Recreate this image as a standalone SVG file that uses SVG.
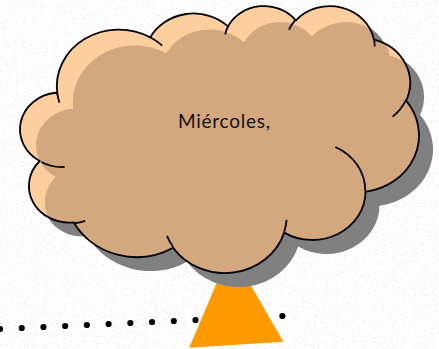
<svg xmlns="http://www.w3.org/2000/svg" width="439" height="349" viewBox="0 0 439 349">
  <style>
    .outline { fill: none; stroke: #000; stroke-width: 1.8; stroke-linejoin: round; }
    .label { font-family: Lato, "Open Sans", "Liberation Sans", sans-serif; font-size: 19px; fill: #111; }
  </style>
  <defs>
    <path id="cloudShape" vector-effect="non-scaling-stroke" d="M3900,14370 A6753,9190 0 0 1 14004,5201 A5333,7267 0 0 1 22456,3428 A4365,5945 0 0 1 29834,2478 A4857,6595 0 0 1 38319,5573 A5333,7273 0 0 1 41820,15457 A6775,9220 0 0 1 37405,30199 A5785,7867 0 0 1 28557,36809 A6752,9215 0 0 1 16482,39261 A7720,10543 0 0 1 5674,35138 A4360,5918 0 0 1 1982,25217 A4345,5945 0 0 1 3732,14174 Z"/>
    <path id="cloudDetail" vector-effect="non-scaling-stroke" d="M4693,26177 A4345,5945 0 0 1 2159,25379 M6928,34899 A4360,5918 0 0 1 5819,35281 M16478,39090 A6752,9215 0 0 1 15810,37349 M28827,34751 A6752,9215 0 0 1 28560,36660 M34129,22954 A5785,7867 0 0 1 37381,30090 M41798,15354 A5333,7273 0 0 1 40349,18031 M38324,5426 A4857,6595 0 0 1 38400,6689 M29078,3952 A4857,6595 0 0 1 29819,2341 M22141,4720 A4365,5945 0 0 1 22500,3330 M14000,5192 A6753,9190 0 0 1 15301,6542 M4127,15789 A6753,9190 0 0 1 3900,14371"/>
    <clipPath id="cloudClip">
      <use href="#cloudShape" transform="translate(21.5,5.2) scale(0.009197,0.006178)"/>
    </clipPath>
    <filter id="speck" x="0" y="0" width="439" height="349" filterUnits="userSpaceOnUse">
      <feTurbulence type="fractalNoise" baseFrequency="0.9" numOctaves="2" seed="7" result="n"/>
      <feColorMatrix in="n" type="matrix" values="0 0 0 0 0.8  0 0 0 0 0.7  0 0 0 0 0.72  18 0 0 0 -11.2"/>
    </filter>
  </defs>

  <rect width="439" height="349" fill="#fff"/>
  <rect width="439" height="349" fill="#fff" filter="url(#speck)" opacity="0.5"/>

  <g id="connectors">
    <line x1="0" y1="329" x2="282.7" y2="316" stroke="#000" stroke-width="6.2" stroke-linecap="round" stroke-dasharray="0 21.746"/>
  </g>

  <g id="triangle">
    <polygon points="230.5,250 283.3,341.7 189.3,347.7" fill="#FF9900"/>
  </g>

  <g id="cloud">
    <use href="#cloudShape" transform="translate(35.5,19.2) scale(0.009197,0.006178)" fill="#808080"/>
    <use href="#cloudShape" transform="translate(21.5,5.2) scale(0.009197,0.006178)" fill="#FDCF9F"/>
    <g clip-path="url(#cloudClip)">
      <use href="#cloudShape" transform="translate(37.5,21.2) scale(0.009197,0.006178)" fill="#D4A87E"/>
    </g>
    <use href="#cloudShape" class="outline" transform="translate(21.5,5.2) scale(0.009197,0.006178)"/>
    <use href="#cloudDetail" class="outline" transform="translate(21.5,5.2) scale(0.009197,0.006178)"/>
    <text class="label" x="224" y="128" text-anchor="middle" textLength="92" lengthAdjust="spacing">Miércoles,</text>
  </g>
</svg>
